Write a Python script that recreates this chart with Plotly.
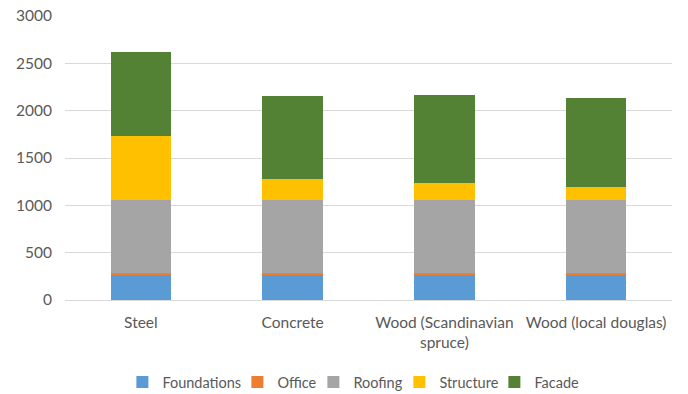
import plotly.graph_objects as go

categories = ["Steel", "Concrete", "Wood (Scandinavian<br>spruce)", "Wood (local douglas)"]
foundations = [260, 260, 260, 260]
office = [28, 28, 28, 28]
roofing = [768, 768, 768, 768]
structure = [674, 225, 179, 139]
facade = [885, 877, 933, 935]
y_ticks = [0, 500, 1000, 1500, 2000, 2500, 3000]

series = [
    ("Foundations", foundations, "#5B9BD5", 70),
    ("Office", office, "#ED7D31", 31),
    ("Roofing", roofing, "#A5A5A5", 41),
    ("Structure", structure, "#FFC000", 50),
    ("Facade", facade, "#548235", 40),
]

fig = go.Figure()
for name, vals, color, lw in series:
    fig.add_trace(go.Bar(
        name=name, x=categories, y=vals,
        marker=dict(color=color, line=dict(width=0)),
        legendwidth=lw,
    ))

axis_font = dict(family="Lato, 'Open Sans', sans-serif", size=15.5, color="#595959")
legend_font = dict(family="Lato, 'Open Sans', sans-serif", size=14.5, color="#595959")

fig.update_layout(
    barmode="stack",
    bargap=0.6,
    width=688, height=394,
    margin=dict(l=65, r=16, t=15.5, b=93.5, autoexpand=False),
    paper_bgcolor="white",
    plot_bgcolor="white",
    font=axis_font,
    showlegend=True,
    legend=dict(
        orientation="h",
        x=0.51, xanchor="center", xref="container",
        y=0.03, yanchor="middle", yref="container",
        font=legend_font,
        traceorder="normal",
        itemwidth=30,
    ),
    xaxis=dict(
        showgrid=False,
        showline=True, linecolor="#D9D9D9", linewidth=1,
        ticks="", tickfont=axis_font,
        ticklabelstandoff=8,
        automargin=False,
    ),
    yaxis=dict(
        range=[0, 3000],
        tickvals=y_ticks,
        showgrid=True, gridcolor="#D9D9D9", gridwidth=1,
        zeroline=False, showline=False,
        ticks="", tickfont=axis_font,
        ticklabelstandoff=12,
        automargin=False,
    ),
)

fig.write_html("out.html")
